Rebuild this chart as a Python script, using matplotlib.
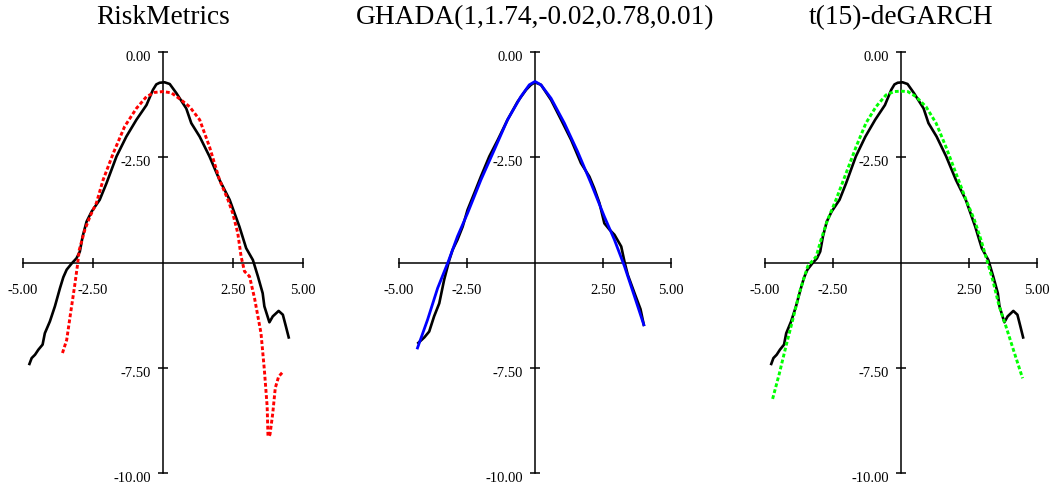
import matplotlib
matplotlib.use("Agg")
import matplotlib.pyplot as plt
from matplotlib.transforms import ScaledTranslation

plt.rcParams['font.family'] = ['Liberation Serif', 'DejaVu Serif']

# empirical log-density (RiskMetrics and t(15)-deGARCH panels)
emp_x = [-4.77, -4.69, -4.57, -4.45, -4.30, -4.22, -4.04, -3.86, -3.68, -3.56,
         -3.44, -3.27, -3.09, -2.97, -2.87, -2.73, -2.55, -2.26, -2.02, -1.66,
         -1.31, -0.95, -0.59, -0.36, -0.24, -0.12, 0.06, 0.24, 0.48, 0.83,
         1.01, 1.31, 1.66, 2.02, 2.38, 2.73, 2.97, 3.21, 3.39, 3.56,
         3.62, 3.80, 3.92, 4.13, 4.28, 4.39, 4.49]
emp_y = [-7.41, -7.27, -7.19, -7.07, -6.95, -6.68, -6.40, -6.04, -5.61, -5.35,
         -5.17, -5.03, -4.90, -4.74, -4.38, -4.03, -3.79, -3.51, -3.12, -2.48,
         -2.01, -1.61, -1.26, -0.90, -0.77, -0.73, -0.72, -0.76, -0.98, -1.34,
         -1.69, -2.01, -2.48, -3.04, -3.51, -4.15, -4.66, -4.94, -5.33, -5.73,
         -6.04, -6.42, -6.28, -6.15, -6.24, -6.52, -6.78]

# RiskMetrics fit
rm_x = [-3.59, -3.44, -3.30, -3.15, -3.06, -2.99, -2.79, -2.61, -2.38, -2.14,
        -1.78, -1.37, -0.95, -0.59, -0.30, 0.00, 0.30, 0.65, 0.95, 1.31,
        1.66, 2.02, 2.32, 2.49, 2.67, 2.79, 2.91, 3.09, 3.27, 3.50,
        3.62, 3.72, 3.75, 3.82, 3.92, 4.01, 4.13, 4.28]
rm_y = [-7.15, -6.84, -6.20, -5.53, -5.09, -4.70, -4.22, -3.91, -3.59, -3.04,
        -2.41, -1.77, -1.34, -1.06, -0.96, -0.94, -0.97, -1.14, -1.30, -1.61,
        -2.25, -3.04, -3.51, -3.83, -4.30, -4.86, -5.21, -5.33, -5.85, -6.68,
        -7.55, -8.42, -9.13, -9.09, -8.58, -7.98, -7.71, -7.60]

# empirical log-density (GHADA panel)
emp2_x = [-4.29, -4.07, -3.89, -3.71, -3.52, -3.34, -3.15, -3.03, -2.85, -2.66,
          -2.48, -2.23, -1.99, -1.68, -1.37, -1.01, -0.64, -0.33, -0.15, 0.00,
          0.22, 0.59, 0.96, 1.33, 1.69, 2.00, 2.18, 2.37, 2.55, 2.74,
          2.92, 3.17, 3.29, 3.41, 3.66, 3.88, 4.00]
emp2_y = [-6.91, -6.78, -6.64, -6.28, -5.97, -5.41, -4.94, -4.70, -4.46, -4.15,
          -3.75, -3.35, -2.96, -2.48, -2.09, -1.61, -1.18, -0.90, -0.78, -0.72,
          -0.78, -1.14, -1.61, -2.09, -2.64, -2.96, -3.24, -3.59, -4.07, -4.22,
          -4.34, -4.62, -4.98, -5.29, -5.73, -6.11, -6.48]

# GHADA fit
gh_x = [-4.32, -3.95, -3.58, -3.19, -2.85, -2.48, -1.99, -1.50, -1.01, -0.52,
        -0.21, 0.00, 0.22, 0.59, 1.08, 1.57, 2.06, 2.55, 2.92, 3.29,
        3.66, 4.00]
gh_y = [-7.03, -6.36, -5.61, -4.98, -4.38, -3.83, -3.04, -2.33, -1.61, -1.06,
        -0.78, -0.70, -0.78, -1.10, -1.69, -2.37, -3.12, -3.91, -4.46, -5.09,
        -5.81, -6.48]

# t(15)-deGARCH fit
t_x = [-4.72, -4.47, -4.23, -3.98, -3.74, -3.43, -3.12, -2.94, -2.70, -2.39,
       -2.02, -1.65, -1.29, -0.92, -0.55, -0.25, 0.00, 0.25, 0.55, 0.92,
       1.29, 1.65, 2.02, 2.39, 2.70, 2.94, 3.12, 3.37, 3.61, 3.86,
       4.17, 4.47]
t_y = [-8.24, -7.63, -6.99, -6.36, -5.73, -5.09, -4.86, -4.46, -3.99, -3.51,
       -2.88, -2.25, -1.69, -1.30, -1.02, -0.94, -0.93, -0.94, -1.06, -1.30,
       -1.69, -2.25, -2.88, -3.51, -3.99, -4.46, -4.86, -5.41, -6.04, -6.52,
       -7.15, -7.75]

titles = ["RiskMetrics", "GHADA(1,1.74,-0.02,0.78,0.01)", "t(15)-deGARCH"]
x_ticks = [-5.0, -2.5, 2.5, 5.0]
y_ticks = [0.0, -2.5, -7.5, -10.0]

W, H = 1051, 488
fig = plt.figure(figsize=(W / 100, H / 100), dpi=100)

# left edge, width in pixels for each panel
boxes = [(23, 280), (399, 272), (765, 272)]
bottom_px, top_px = 473, 52

panels = [
    (emp_x, emp_y, rm_x, rm_y, '#ff0000', (1.3, 0.8)),
    (emp2_x, emp2_y, gh_x, gh_y, '#0000ff', None),
    (emp_x, emp_y, t_x, t_y, '#00ff00', (1.3, 0.8)),
]

for i in range(3):
    left, width = boxes[i]
    ax = fig.add_axes([left / W, (H - bottom_px) / H, width / W,
                       (bottom_px - top_px) / H])
    ex, ey, fx, fy, col, dash = panels[i]
    ax.plot(ex, ey, color='black', lw=1.9, zorder=3)
    if dash is None:
        ax.plot(fx, fy, color=col, lw=2.0, zorder=4)
    else:
        ax.plot(fx, fy, color=col, lw=2.1, dashes=dash, zorder=4)

    ax.set_xlim(-5, 5)
    ax.set_ylim(-10, 0)
    ax.spines['left'].set_position(('data', 0))
    ax.spines['bottom'].set_position(('data', -5))
    ax.spines['right'].set_visible(False)
    ax.spines['top'].set_visible(False)
    for s in ['left', 'bottom']:
        ax.spines[s].set_linewidth(1.1)

    ax.set_xticks(x_ticks)
    ax.set_xticklabels([f"{v:.2f}" for v in x_ticks])
    ax.set_yticks(y_ticks)
    ax.set_yticklabels([f"{v:.2f}" for v in y_ticks])
    ax.tick_params(direction='inout', length=7, width=1.1, labelsize=10.5)
    ax.tick_params(axis='x', pad=12)
    ax.tick_params(axis='y', pad=5)
    for lbl in ax.get_yticklabels():
        lbl.set_transform(lbl.get_transform() +
                          ScaledTranslation(0, -3 / 72, fig.dpi_scale_trans))

    ax.set_title(titles[i], fontsize=19.7, pad=20, y=1.0)

plt.savefig("out.png", dpi=100)
